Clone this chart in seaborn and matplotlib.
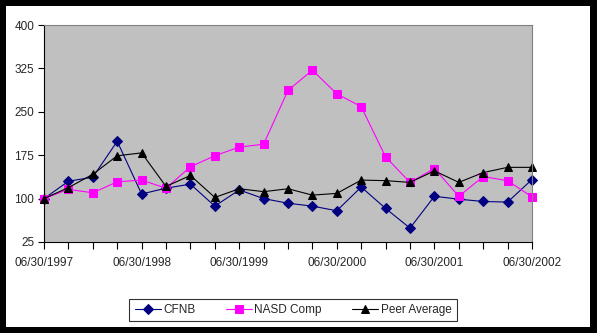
import matplotlib
matplotlib.use("Agg")
import matplotlib.pyplot as plt
import seaborn as sns
import pandas as pd
from matplotlib.patches import Rectangle

dates = ["06/30/1997", "09/30/1997", "12/31/1997", "03/31/1998", "06/30/1998",
         "09/30/1998", "12/31/1998", "03/31/1999", "06/30/1999", "09/30/1999",
         "12/31/1999", "03/31/2000", "06/30/2000", "09/30/2000", "12/31/2000",
         "03/31/2001", "06/30/2001", "09/30/2001", "12/31/2001", "03/31/2002",
         "06/30/2002"]
cfnb = [100, 130, 137, 199, 108, 118, 125, 87, 115, 100, 92, 87, 79, 120, 83,
        49, 104, 99, 95, 94, 133]
nasd = [100, 116, 110, 129, 132, 118, 155, 174, 189, 194, 287, 322, 281, 259,
        172, 128, 152, 104, 138, 131, 103]
peer = [100, 119, 142, 174, 179, 121, 140, 102, 117, 112, 117, 106, 109, 132,
        131, 128, 148, 128, 145, 154, 154]
y_ticks = [25, 100, 175, 250, 325, 400]

sns.set_style("white")
plt.rcParams['font.family'] = ['Liberation Sans', 'DejaVu Sans']

fig = plt.figure(figsize=(5.97, 3.33), dpi=100)
fig.patch.set_facecolor("black")
fig.patches.append(Rectangle((6 / 597, 6 / 333), 584 / 597, 321 / 333,
                             transform=fig.transFigure, facecolor="white",
                             edgecolor="none", zorder=-10))

ax = fig.add_axes([44 / 597, 91 / 333, 488 / 597, 217 / 333])
ax.set_facecolor("#C0C0C0")

df = pd.DataFrame({"i": range(len(dates)), "CFNB": cfnb,
                   "NASD Comp": nasd, "Peer Average": peer})
sns.lineplot(data=df, x="i", y="CFNB", ax=ax, color="#000080", marker="D",
             markersize=5, markeredgecolor="#000080", linewidth=0.8, label="CFNB",
             clip_on=False)
sns.lineplot(data=df, x="i", y="NASD Comp", ax=ax, color="#FF00FF", marker="s",
             markersize=6, markeredgecolor="#FF00FF", linewidth=0.8, label="NASD Comp",
             clip_on=False)
sns.lineplot(data=df, x="i", y="Peer Average", ax=ax, color="black", marker="^",
             markersize=6, markeredgecolor="black", linewidth=0.8, label="Peer Average",
             clip_on=False)

ax.set_xlim(0, len(dates) - 1)
ax.set_ylim(25, 400)
ax.set_yticks(y_ticks)
ax.set_yticklabels([str(v) for v in y_ticks], fontsize=8.5)
ax.set_xticks(range(len(dates)))
ax.set_xticklabels([d if k % 4 == 0 else "" for k, d in enumerate(dates)], fontsize=8.5)
ax.set_xlabel("")
ax.set_ylabel("")
ax.tick_params(axis="both", direction="out", length=4, width=0.8, color="black",
               left=True, bottom=True, pad=3)
ax.tick_params(axis="x", length=5, pad=6)

for s in ["left", "bottom"]:
    ax.spines[s].set_color("black")
    ax.spines[s].set_linewidth(0.8)
for s in ["top", "right"]:
    ax.spines[s].set_color("#808080")
    ax.spines[s].set_linewidth(0.8)
    ax.spines[s].set_visible(True)

leg = ax.legend(loc="center", bbox_to_anchor=(293 / 597, 23 / 333), bbox_transform=fig.transFigure,
                ncol=3, frameon=True, fancybox=False, fontsize=8.5, handlelength=2.2,
                columnspacing=2.6, borderpad=0.45, handletextpad=0.2)
leg.get_frame().set_edgecolor("black")
leg.get_frame().set_linewidth(0.8)

fig.savefig("out.png", dpi=100, facecolor=fig.get_facecolor())
